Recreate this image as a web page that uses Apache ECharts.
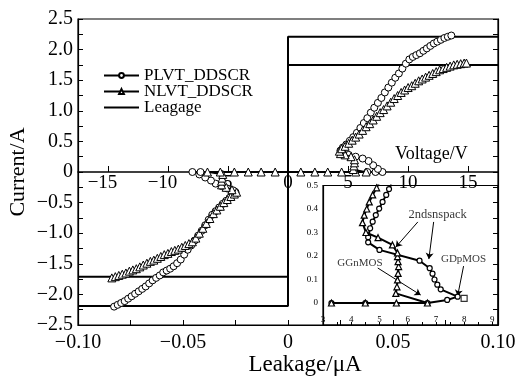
<!DOCTYPE html>
<html><head><meta charset="utf-8">
<script src="https://cdn.jsdelivr.net/npm/echarts@6/dist/echarts.min.js"></script>
<style>html,body{margin:0;padding:0;background:#fff}#c{width:518px;height:380px}</style>
</head><body><div id="c"></div>
<script>
// ---------- data ----------
const seriesNames = ['PLVT_DDSCR', 'NLVT_DDSCR', 'Leagage'];

// PLVT_DDSCR (circles): voltage (V) and current (A), one sweep negative -> positive
const plvtV = [-14.49,-14.19,-13.90,-13.61,-13.32,-13.03,-12.74,-12.44,-12.15,-11.86,-11.57,-11.28,-10.99,-10.69,-10.40,-10.11,-9.82,-9.53,-9.24,-8.94,-8.65,-8.36,-8.07,-7.78,-7.49,-7.19,-6.90,-6.61,-6.32,-6.03,-5.74,-5.44,-5.15,-4.86,-4.57,-4.37,
  -4.57,-5.06,-5.54,-6.03,-6.42,-6.90,-7.39,-7.97,-7.29,
  6.61,7.29,7.87,
  7.49,7.10,6.71,6.22,5.64,5.06,4.57,4.37,
  4.57,4.86,5.15,5.44,5.74,6.03,6.32,6.61,6.90,7.19,7.49,7.78,8.07,8.36,8.65,8.94,9.24,9.53,9.82,10.11,10.40,10.69,10.99,11.28,11.57,11.86,12.15,12.44,12.74,13.03,13.32,13.61];
const plvtI = [-2.20,-2.17,-2.14,-2.11,-2.07,-2.03,-1.99,-1.95,-1.91,-1.87,-1.82,-1.77,-1.73,-1.69,-1.64,-1.61,-1.58,-1.54,-1.49,-1.43,-1.35,-1.27,-1.20,-1.12,-1.04,-0.96,-0.87,-0.78,-0.70,-0.64,-0.58,-0.52,-0.47,-0.42,-0.37,-0.33,
  -0.30,-0.27,-0.23,-0.19,-0.14,-0.09,-0.04,0,0,
  0,0,0,
  0.05,0.11,0.18,0.22,0.25,0.28,0.31,0.35,
  0.40,0.45,0.51,0.57,0.64,0.72,0.80,0.88,0.97,1.05,1.13,1.21,1.30,1.38,1.46,1.54,1.61,1.69,1.77,1.84,1.88,1.91,1.94,1.98,2.02,2.06,2.10,2.13,2.16,2.19,2.21,2.23];

// NLVT_DDSCR (triangles)
const nlvtV = [-14.68,-14.39,-14.10,-13.81,-13.51,-13.22,-12.93,-12.64,-12.35,-12.06,-11.76,-11.47,-11.18,-10.89,-10.60,-10.31,-10.01,-9.72,-9.43,-9.14,-8.85,-8.56,-8.26,-7.97,-7.68,-7.39,-7.10,-6.81,-6.51,-6.22,-5.93,-5.64,-5.35,-5.06,-4.76,-4.47,-4.28,
  -4.67,-5.15,-5.54,-5.54,-5.49,-5.44,-6.71,
  -5.64,-4.47,-3.31,-2.24,-1.07,1.07,2.24,3.31,4.47,5.64,6.51,
  5.44,5.49,5.54,5.54,5.25,4.76,4.37,4.28,
  4.47,4.76,5.06,5.35,5.64,5.93,6.22,6.51,6.81,7.10,7.39,7.68,7.97,8.26,8.56,8.85,9.14,9.43,9.72,10.01,10.31,10.60,10.89,11.18,11.47,11.76,12.06,12.35,12.64,12.93,13.22,13.51,13.81,14.10,14.39,14.68,14.87];
const nlvtI = [-1.73,-1.71,-1.69,-1.67,-1.65,-1.62,-1.60,-1.58,-1.55,-1.52,-1.49,-1.46,-1.44,-1.41,-1.38,-1.35,-1.33,-1.30,-1.28,-1.26,-1.23,-1.20,-1.17,-1.14,-1.08,-1.00,-0.92,-0.84,-0.76,-0.68,-0.62,-0.56,-0.50,-0.45,-0.40,-0.36,-0.33,
  -0.29,-0.25,-0.21,-0.15,-0.10,-0.04,0,
  0,0,0,0,0,0,0,0,0,0,0,
  0.04,0.10,0.15,0.20,0.25,0.28,0.30,0.34,
  0.38,0.42,0.47,0.52,0.57,0.62,0.68,0.74,0.79,0.85,0.91,0.97,1.02,1.08,1.14,1.20,1.25,1.30,1.34,1.38,1.41,1.45,1.49,1.52,1.55,1.58,1.61,1.64,1.67,1.69,1.71,1.73,1.75,1.76,1.77,1.78,1.78];

// Leakage (μA) vs current (A)
const leakOuterX = [-0.1, 0, 0, 0.1];
const leakOuterY = [-2.19, -2.19, 2.21, 2.21];
const leakInnerX = [-0.1, 0, 0, 0.1];
const leakInnerY = [-1.71, -1.71, 1.75, 1.75];

// Inset: GDpMOS (circles) and GGnMOS (triangles), voltage (V) vs current (A)
const gdpV = [3.3,4.5,6.7,7.4,7.77,7.17,7.05,6.95,6.88,6.78,6.42,5.0,4.6,4.6,4.67,4.76,4.87,4.99,5.11,5.24,5.34,5.42];
const gdpI = [0,0,0,0.013,0.027,0.058,0.078,0.10,0.125,0.148,0.18,0.226,0.258,0.28,0.318,0.346,0.374,0.402,0.43,0.46,0.485,0.505];
const ggnV = [3.3,4.5,5.6,6.7,5.58,5.62,5.64,5.66,5.68,5.66,5.64,5.64,5.46,4.95,4.52,4.4,4.46,4.55,4.64,4.76,4.9,4.98];
const ggnI = [0,0,0,0,0.041,0.069,0.098,0.126,0.155,0.176,0.197,0.213,0.247,0.278,0.30,0.342,0.374,0.40,0.43,0.46,0.49,0.51];
const squareV = [8.0];
const squareI = [0.02];

// Inset annotations
const annoText = ['2ndsnspack', 'GGnMOS', 'GDpMOS'];
const annoV = [7.06, 4.31, 7.98];
const annoI = [0.374, 0.17, 0.187];
const arrowFromV = [6.36, 6.92, 4.94, 7.98];
const arrowFromI = [0.345, 0.345, 0.149, 0.157];
const arrowToV = [5.58, 6.75, 6.46, 7.77];
const arrowToI = [0.238, 0.187, 0.034, 0.03];

// Tick values
const leakTicks = [-0.1, -0.05, 0, 0.05, 0.1];
const voltTicks = [-15, -10, -5, 0, 5, 10, 15];
const insetXTicks = [3, 4, 5, 6, 7, 8, 9];
const insetXMinor = [3, 3.5, 4, 4.5, 5, 5.5, 6, 6.5, 7, 7.5, 8, 8.5, 9];
const insetYTicks = [0, 0.1, 0.2, 0.3, 0.4, 0.5];

// ---------- chart ----------
const FONT = '"Liberation Serif", "Times New Roman", serif';
const M = '\u2212';
const zip = (a, b) => a.map((v, i) => [v, b[i]]);
const fmt = (v, d) => (Math.abs(v) < 1e-9 ? '0' : (v < 0 ? M : '') + Math.abs(v).toFixed(d));
const black = '#000';

const chart = echarts.init(document.getElementById('c'), null, {renderer: 'canvas'});
const option = {
  animation: false,
  backgroundColor: '#fff',
  textStyle: {fontFamily: FONT, color: black},
  legend: {
    data: [seriesNames[0], seriesNames[1], {name: seriesNames[2], itemStyle: {opacity: 0}}],
    orient: 'vertical', left: 103, top: 67,
    itemWidth: 35, itemHeight: 6, itemGap: -1,
    textStyle: {fontSize: 17, fontFamily: FONT, color: black},
    padding: 0
  },
  graphic: [{
    type: 'text', left: 395, top: 145,
    style: {text: 'Voltage/V', font: '18px "Liberation Serif"', fill: black}
  }],
  grid: [
    {left: 78, top: 19, width: 420, height: 306, show: true, borderColor: black, borderWidth: 1.2, backgroundColor: 'transparent', containLabel: false, outerBoundsMode: 'none'},
    {left: 323, top: 185.5, width: 175, height: 139.5, show: true, borderColor: black, borderWidth: 1.2, backgroundColor: 'transparent', containLabel: false, outerBoundsMode: 'none'}
  ],
  xAxis: [
    {
      gridIndex: 0, type: 'value', min: -0.1, max: 0.1, interval: 0.05, position: 'bottom',
      axisLine: {onZero: false, lineStyle: {color: black, width: 1.2}},
      axisTick: {inside: true, length: 5, lineStyle: {color: black}},
      minorTick: {show: true, splitNumber: 2, length: 5, lineStyle: {color: black}},
      axisLabel: {fontSize: 20, color: black, margin: 8, formatter: v => fmt(v, 2), customValues: leakTicks},
      splitLine: {show: false},
      name: 'Leakage/\u03bcA', nameLocation: 'middle', nameGap: 28, nameMoveOverlap: false,
      nameTextStyle: {fontSize: 23, color: black, fontFamily: FONT, padding: [0, 0, 0, 34]}
    },
    {
      gridIndex: 0, type: 'value', min: -17.5, max: 17.5, position: 'bottom', offset: -153,
      axisLine: {onZero: false, lineStyle: {color: black, width: 1.5}},
      axisTick: {inside: true, length: 6, lineStyle: {color: black}, customValues: voltTicks},
      axisLabel: {
        fontSize: 19, color: black, margin: 2, customValues: voltTicks, showMinLabel: true, showMaxLabel: true,
        formatter: v => (v < 0 ? '{neg|' + fmt(v, 0) + '}' : fmt(v, 0)),
        rich: {neg: {fontSize: 19, fontFamily: FONT, color: black, padding: [0, 11, 0, 0]}}
      },
      splitLine: {show: false}
    },
    {
      gridIndex: 1, type: 'value', min: 3, max: 9.2, position: 'bottom',
      axisLine: {onZero: false, lineStyle: {color: black, width: 1.2}},
      axisTick: {inside: true, length: 3, lineStyle: {color: black}, customValues: insetXMinor},
      axisLabel: {inside: true, fontSize: 9, color: black, margin: 1, customValues: insetXTicks, showMinLabel: true, showMaxLabel: true},
      splitLine: {show: false}
    }
  ],
  yAxis: [
    {
      gridIndex: 0, type: 'value', min: -2.5, max: 2.5, interval: 0.5, position: 'left',
      axisLine: {onZero: false, lineStyle: {color: black, width: 1.2}},
      axisTick: {inside: true, length: 5, lineStyle: {color: black}},
      minorTick: {show: true, splitNumber: 2, length: 5, lineStyle: {color: black}},
      axisLabel: {fontSize: 20, color: black, margin: 5, formatter: v => fmt(v, 1)},
      splitLine: {show: false},
      name: 'Current/A', nameLocation: 'middle', nameGap: 49, nameRotate: 90, nameMoveOverlap: false,
      nameTextStyle: {fontSize: 22, color: black, fontFamily: FONT}
    },
    {
      gridIndex: 0, type: 'value', min: -2.5, max: 2.5, interval: 0.5, position: 'right',
      axisLine: {onZero: false, lineStyle: {color: black, width: 1.2}},
      axisTick: {inside: true, length: 5, lineStyle: {color: black}},
      minorTick: {show: true, splitNumber: 2, length: 5, lineStyle: {color: black}},
      axisLabel: {show: false},
      splitLine: {show: false}
    },
    {
      gridIndex: 1, type: 'value', min: -0.0936, max: 0.5, position: 'left',
      axisLine: {onZero: false, lineStyle: {color: black, width: 1.2}},
      axisTick: {show: false},
      axisLabel: {fontSize: 9, color: black, margin: 5, formatter: v => (Math.abs(v) < 1e-9 ? '0' : v.toFixed(1)), customValues: insetYTicks, showMinLabel: true, showMaxLabel: true},
      splitLine: {show: false}
    }
  ],
  series: [
    {
      name: 'Leagage', type: 'line', xAxisIndex: 0, yAxisIndex: 0, z: 2,
      data: zip(leakOuterX, leakOuterY), symbol: 'none',
      lineStyle: {color: black, width: 2}, itemStyle: {color: black}
    },
    {
      name: 'Leagage', type: 'line', xAxisIndex: 0, yAxisIndex: 0, z: 2,
      data: zip(leakInnerX, leakInnerY), symbol: 'none',
      lineStyle: {color: black, width: 2}, itemStyle: {color: black}
    },
    {
      name: 'PLVT_DDSCR', type: 'line', xAxisIndex: 1, yAxisIndex: 0, z: 3,
      data: zip(plvtV, plvtI), symbol: 'circle', symbolSize: 7, showAllSymbol: true,
      lineStyle: {color: black, width: 1.5},
      itemStyle: {color: '#fff', borderColor: black, borderWidth: 1}
    },
    {
      name: 'NLVT_DDSCR', type: 'line', xAxisIndex: 1, yAxisIndex: 0, z: 4,
      data: zip(nlvtV, nlvtI), symbol: 'triangle', symbolSize: 8, showAllSymbol: true,
      lineStyle: {color: black, width: 1.5},
      itemStyle: {color: '#fff', borderColor: black, borderWidth: 1}
    },
    {
      name: 'GDpMOS', type: 'line', xAxisIndex: 2, yAxisIndex: 2, z: 5,
      data: zip(gdpV, gdpI), symbol: 'circle', symbolSize: 5, showAllSymbol: true,
      lineStyle: {color: black, width: 2},
      itemStyle: {color: '#fff', borderColor: black, borderWidth: 1.2},
      markLine: {
        silent: true, symbol: ['none', 'arrow'], symbolSize: 6, animation: false,
        lineStyle: {color: black, width: 1, type: 'solid'},
        label: {show: false},
        data: arrowFromV.map((v, i) => [{coord: [v, arrowFromI[i]]}, {coord: [arrowToV[i], arrowToI[i]]}])
      }
    },
    {
      name: 'GGnMOS', type: 'line', xAxisIndex: 2, yAxisIndex: 2, z: 6,
      data: zip(ggnV, ggnI), symbol: 'triangle', symbolSize: 6, showAllSymbol: true,
      lineStyle: {color: black, width: 2},
      itemStyle: {color: '#fff', borderColor: black, borderWidth: 1.2}
    },
    {
      name: 'point', type: 'scatter', xAxisIndex: 2, yAxisIndex: 2, z: 6,
      data: zip(squareV, squareI), symbol: 'rect', symbolSize: 6,
      itemStyle: {color: '#fff', borderColor: black, borderWidth: 1.2}
    },
    {
      name: 'notes', type: 'scatter', xAxisIndex: 2, yAxisIndex: 2, z: 7, silent: true,
      data: annoV.map((v, i) => ({value: [v, annoI[i]], name: annoText[i], label: {fontSize: i === 0 ? 12.5 : 11}})),
      symbolSize: 1, itemStyle: {color: 'transparent'},
      label: {show: true, position: 'inside', formatter: p => p.name, color: black, fontFamily: FONT}
    }
  ]
};
chart.setOption(option);
</script>
</body></html>
